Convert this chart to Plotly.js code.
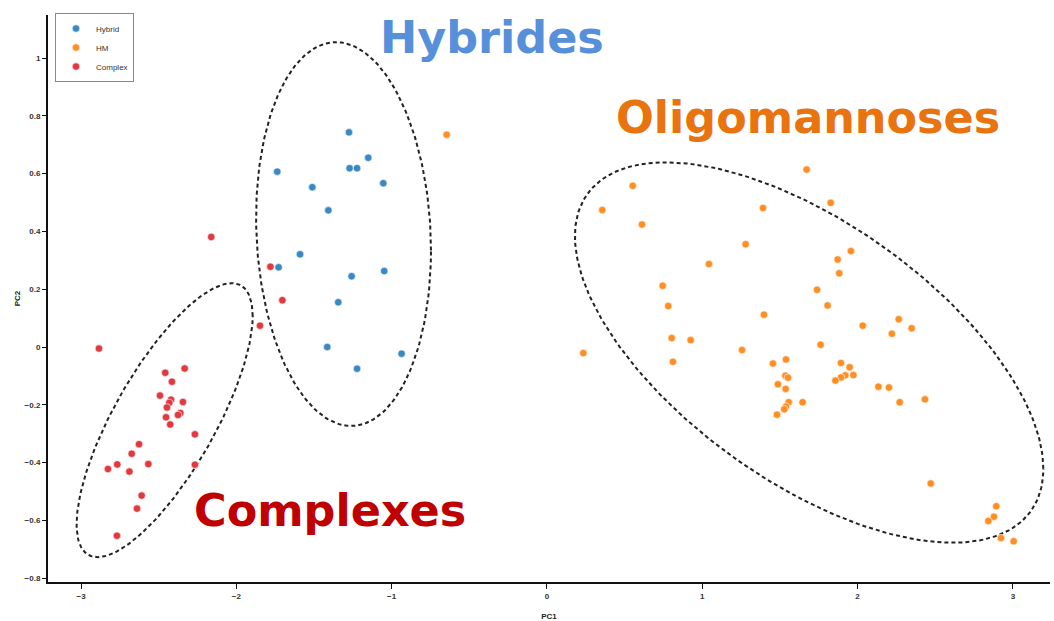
<!DOCTYPE html>
<html>
<head>
<meta charset="utf-8">
<script src="https://cdn.plot.ly/plotly-3.0.1.min.js"></script>
<style>html,body{margin:0;padding:0;background:#fff;}#chart{width:1054px;height:621px;}</style>
</head>
<body>
<div id="chart"></div>
<script>
// ---- Data ----
const hybridX = [-1.275, -1.151, -1.737, -1.271, -1.223, -1.054, -1.511, -1.408, -1.590, -1.728, -1.048, -1.258, -1.344, -1.415, -0.936, -1.223];
const hybridY = [0.743, 0.655, 0.607, 0.619, 0.619, 0.567, 0.553, 0.473, 0.321, 0.276, 0.263, 0.245, 0.155, 0.000, -0.023, -0.075];

const hmX = [-0.646, 1.672, 0.552, 0.356, 0.612, 1.391, 1.279, 1.043, 0.745, 0.781, 1.397, 0.803, 0.925, 0.234, 1.256, 0.811, 1.455, 1.539, 1.535, 1.552, 1.487, 1.537, 1.646, 1.556, 1.539, 1.528, 1.481, 1.827, 1.957, 1.872, 1.882, 1.739, 1.807, 2.033, 2.265, 2.221, 2.348, 1.762, 1.893, 1.949, 1.973, 1.921, 1.893, 1.857, 2.134, 2.202, 2.271, 2.434, 2.471, 2.893, 2.878, 2.842, 2.923, 3.005];
const hmY = [0.735, 0.614, 0.558, 0.474, 0.424, 0.481, 0.356, 0.287, 0.212, 0.142, 0.112, 0.031, 0.024, -0.021, -0.010, -0.051, -0.057, -0.043, -0.099, -0.106, -0.129, -0.145, -0.191, -0.191, -0.206, -0.215, -0.234, 0.499, 0.332, 0.303, 0.255, 0.198, 0.144, 0.074, 0.096, 0.046, 0.065, 0.008, -0.055, -0.070, -0.097, -0.098, -0.105, -0.116, -0.137, -0.140, -0.191, -0.181, -0.472, -0.551, -0.587, -0.602, -0.661, -0.672];

const complexX = [-2.162, -1.781, -1.704, -1.848, -2.885, -2.333, -2.458, -2.415, -2.492, -2.421, -2.432, -2.447, -2.344, -2.361, -2.376, -2.453, -2.426, -2.267, -2.627, -2.674, -2.767, -2.827, -2.689, -2.567, -2.267, -2.610, -2.640, -2.769];
const complexY = [0.381, 0.278, 0.162, 0.074, -0.005, -0.074, -0.089, -0.120, -0.168, -0.182, -0.193, -0.209, -0.190, -0.228, -0.235, -0.243, -0.268, -0.302, -0.336, -0.369, -0.406, -0.422, -0.431, -0.405, -0.407, -0.514, -0.559, -0.653];

const seriesNames = ["Hybrid", "HM", "Complex"];

// Confidence ellipses (Complex, Hybrid, HM): centre, half-extents, correlation
const ellipseCx = [-2.462, -1.310, 1.688];
const ellipseCy = [-0.253, 0.391, -0.019];
const ellipseRx = [0.567, 0.563, 1.508];
const ellipseRy = [0.474, 0.664, 0.658];
const ellipseRho = [0.760, -0.086, -0.612];

const labelText = ["Hybrides", "Oligomannoses", "Complexes"];
const labelX = [-0.355, 1.68, -1.40];
const labelY = [1.07, 0.795, -0.565];

const xTickVals = [-3, -2, -1, 0, 1, 2, 3];
const xTickText = ["\u22123", "\u22122", "\u22121", "0", "1", "2", "3"];
const yTickVals = [-0.8, -0.6, -0.4, -0.2, 0, 0.2, 0.4, 0.6, 0.8, 1];
const yTickText = ["\u22120.8", "\u22120.6", "\u22120.4", "\u22120.2", "0", "0.2", "0.4", "0.6", "0.8", "1"];

// ---- Styles ----
const colors = ["#3a88c4", "#ff8f24", "#e0393e"];
const labelColors = ["#5690da", "#e8730f", "#c00000"];

function ellipseTrace(i) {
  const xs = [], ys = [];
  const n = 240;
  const s = Math.sqrt(1 - ellipseRho[i] * ellipseRho[i]);
  for (let k = 0; k <= n; k++) {
    const t = 2 * Math.PI * k / n;
    xs.push(ellipseCx[i] + ellipseRx[i] * Math.cos(t));
    ys.push(ellipseCy[i] + ellipseRy[i] * (ellipseRho[i] * Math.cos(t) + s * Math.sin(t)));
  }
  return {
    x: xs, y: ys, type: "scatter", mode: "lines", showlegend: false, hoverinfo: "skip",
    line: {color: "#222", width: 2, dash: "4px,3px"}
  };
}

function pointTrace(name, xs, ys, color) {
  return {
    x: xs, y: ys, name: name, type: "scatter", mode: "markers",
    marker: {color: color, size: 7.5, line: {color: "#ffffff", width: 0.6}}
  };
}

const traces = [
  ellipseTrace(0), ellipseTrace(1), ellipseTrace(2),
  pointTrace(seriesNames[0], hybridX, hybridY, colors[0]),
  pointTrace(seriesNames[1], hmX, hmY, colors[1]),
  pointTrace(seriesNames[2], complexX, complexY, colors[2])
];

const annotations = labelText.map((t, i) => ({
  x: labelX[i], y: labelY[i], xref: "x", yref: "y", text: t, showarrow: false,
  xanchor: "center", yanchor: "middle",
  font: {family: "DejaVu Sans", size: 44.5, color: labelColors[i], weight: "bold"}
}));

const tickFont = {family: "Liberation Sans", size: 8, color: "#333", weight: "bold"};

const layout = {
  width: 1054, height: 621,
  margin: {l: 48, r: 4, t: 15, b: 39},
  paper_bgcolor: "#fff", plot_bgcolor: "#fff",
  showlegend: true,
  legend: {
    x: 0.007, y: 1.0035, xanchor: "left", yanchor: "top",
    bgcolor: "#fff", bordercolor: "#888", borderwidth: 1,
    font: {family: "Liberation Sans", size: 8, color: "#333"},
    itemwidth: 30, tracegroupgap: 0
  },
  xaxis: {
    range: [-3.213, 3.239], showgrid: false, zeroline: false,
    showline: true, linecolor: "#111", linewidth: 2,
    ticks: "outside", ticklen: 5, tickwidth: 1, tickcolor: "#111",
    tickvals: xTickVals, ticktext: xTickText, tickfont: tickFont,
    title: {text: "PC1", font: {family: "Liberation Sans", size: 8, color: "#222", weight: "bold"}, standoff: 17}
  },
  yaxis: {
    range: [-0.813, 1.149], showgrid: false, zeroline: false,
    showline: true, linecolor: "#111", linewidth: 2,
    ticks: "outside", ticklen: 4, tickwidth: 1, tickcolor: "#111",
    tickvals: yTickVals, ticktext: yTickText, tickfont: tickFont,
    title: {text: "PC2", font: {family: "Liberation Sans", size: 8, color: "#222", weight: "bold"}, standoff: 3}
  },
  annotations: annotations
};

Plotly.newPlot("chart", traces, layout, {displayModeBar: false, staticPlot: true});
</script>
</body>
</html>
